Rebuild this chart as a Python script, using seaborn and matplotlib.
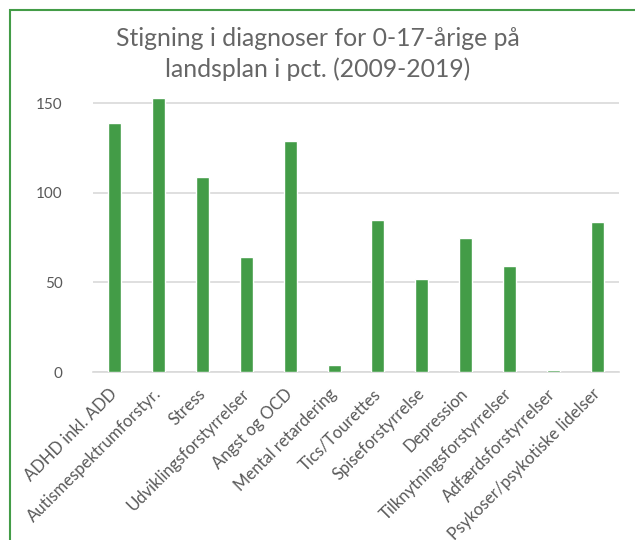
import matplotlib
matplotlib.use("Agg")
import matplotlib.pyplot as plt
import pandas as pd
import seaborn as sns
from matplotlib.patches import Rectangle

# data
diagnoser = [
    "ADHD inkl. ADD",
    "Autismespektrumforstyr.",
    "Stress",
    "Udviklingsforstyrrelser",
    "Angst og OCD",
    "Mental retardering",
    "Tics/Tourettes",
    "Spiseforstyrrelse",
    "Depression",
    "Tilknytningsforstyrrelser",
    "Adfærdsforstyrrelser",
    "Psykoser/psykotiske lidelser",
]
stigning = [139, 153, 109, 64, 129, 4, 85, 52, 75, 59, 1, 84]
yticks = [0, 50, 100, 150]

df = pd.DataFrame({"diagnose": diagnoser, "stigning": stigning})

sns.set_style("white")
plt.rcParams["font.family"] = ["Lato", "DejaVu Sans"]

grey = "#595959"
green = "#439C47"

fig = plt.figure(figsize=(6.35, 5.4), dpi=100)
ax = fig.add_axes([93 / 635, 1 - 372 / 540, 526 / 635, (372 - 97) / 540])

sns.barplot(data=df, x="diagnose", y="stigning", color=green, width=0.30,
            saturation=1, ax=ax, zorder=3)

ax.set_xlim(-0.5, len(diagnoser) - 0.5)
ax.set_ylim(0, 153.5)
ax.set_yticks(yticks)
ax.yaxis.grid(True, color="#d9d9d9", linewidth=1.2)
ax.set_axisbelow(True)
for s in ["top", "right", "left"]:
    ax.spines[s].set_visible(False)
ax.spines["bottom"].set_color("#d9d9d9")
ax.spines["bottom"].set_linewidth(1.2)
ax.spines["bottom"].set_zorder(1)
ax.tick_params(axis="both", length=0, colors=grey)
ax.tick_params(axis="y", pad=22, labelsize=11)
ax.tick_params(axis="x", pad=14, labelsize=12)
ax.set_xlabel("")
ax.set_ylabel("")
plt.setp(ax.get_xticklabels(), rotation=45, ha="right", va="center",
         rotation_mode="anchor")

fig.suptitle("Stigning i diagnoser for 0-17-årige på\nlandsplan i pct. (2009-2019)",
             y=1 - 27 / 540, va="top", fontsize=17.8, color="#666666",
             linespacing=1.38)

# green frame round the chart
fig.patches.append(Rectangle((10 / 635, -0.1), 1.5, 1 - 10 / 540 + 0.1,
                             transform=fig.transFigure, fill=False,
                             edgecolor=green, linewidth=1.5))

fig.savefig("out.png", dpi=100)
